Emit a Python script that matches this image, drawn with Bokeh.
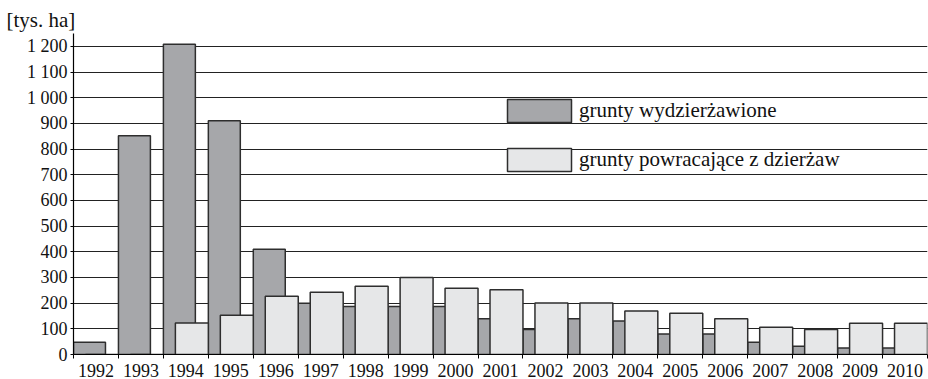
from bokeh.plotting import figure
from bokeh.models import FixedTicker, Legend, LegendItem, ColumnDataSource
from bokeh.embed import file_html
from bokeh.resources import INLINE

years = ["1992", "1993", "1994", "1995", "1996", "1997", "1998", "1999", "2000", "2001",
         "2002", "2003", "2004", "2005", "2006", "2007", "2008", "2009", "2010"]
leased_out = [48, 852, 1208, 910, 410, 200, 187, 187, 187, 139,
              97, 139, 130, 80, 80, 48, 32, 25, 25]
returned = [0, 0, 123, 153, 227, 242, 266, 300, 258, 252,
            201, 201, 169, 161, 139, 106, 97, 122, 122]
y_ticks = [0, 100, 200, 300, 400, 500, 600, 700, 800, 900, 1000, 1100, 1200]
y_tick_labels = ["0", "100", "200", "300", "400", "500", "600", "700", "800", "900",
                 "1 000", "1 100", "1 200"]
series_names = ["grunty wydzierżawione", "grunty powracające z dzierżaw"]
unit_label = "[tys. ha]"

FONT = "Liberation Serif"
FS = "18px"
FS_BIG = "21px"
DARK = "#a6a7aa"
LIGHT = "#e6e7e8"
EDGE = "#2e2e2e"

n = len(years)
idx = list(range(n))
dark_w = 32 / 45
light_w = 33 / 45
src = ColumnDataSource(dict(
    xd=[i + dark_w / 2 for i in idx],
    xl=[i + 1 - light_w / 2 for i in idx],
    dark=leased_out,
    light=returned,
))

p = figure(width=928, height=379, x_range=(0, n), y_range=(0, 1250),
           output_backend="svg", toolbar_location=None,
           min_border_left=73, min_border_right=1, min_border_top=33, min_border_bottom=25)
p.outline_line_color = None
p.background_fill_color = "white"

r1 = p.vbar(x="xd", top="dark", width=dark_w, bottom=0, source=src,
            fill_color=DARK, line_color=EDGE, line_width=1.5)
r2 = p.vbar(x="xl", top="light", width=light_w, bottom=0, source=src,
            fill_color=LIGHT, line_color=EDGE, line_width=1.5)

# x axis: labels at centers, tick marks at category boundaries
centers = [i + 0.5 for i in idx]
p.xaxis.ticker = FixedTicker(ticks=centers, minor_ticks=list(range(n + 1)))
p.xaxis.major_label_overrides = {c: y for c, y in zip(centers, years)}
p.xaxis.major_tick_line_color = None
p.xaxis.minor_tick_line_color = "black"
p.xaxis.minor_tick_out = 4
p.xaxis.minor_tick_in = 0
p.xaxis.axis_line_color = "black"
p.xaxis.axis_line_width = 1.2
p.xaxis.major_label_standoff = 3
p.xaxis.major_label_text_font = FONT
p.xaxis.major_label_text_font_size = FS
p.xaxis.major_label_text_color = "#111111"

p.yaxis.ticker = FixedTicker(ticks=y_ticks)
p.yaxis.major_label_overrides = {t: l for t, l in zip(y_ticks, y_tick_labels)}
p.yaxis.minor_tick_line_color = None
p.yaxis.major_tick_out = 3
p.yaxis.major_tick_in = 0
p.yaxis.major_tick_line_color = "black"
p.yaxis.axis_line_color = "black"
p.yaxis.axis_line_width = 1.2
p.yaxis.major_label_standoff = 3
p.yaxis.major_label_text_font = FONT
p.yaxis.major_label_text_font_size = "18px"
p.yaxis.major_label_text_color = "#111111"

p.xgrid.grid_line_color = None
p.ygrid.ticker = FixedTicker(ticks=y_ticks[1:])
p.ygrid.grid_line_color = "#222222"
p.ygrid.grid_line_width = 1.1

p.title.text = unit_label
p.title.align = "left"
p.title.offset = -67
p.title.standoff = 4
p.title.text_font = FONT
p.title.text_font_size = FS_BIG
p.title.text_font_style = "normal"
p.title.text_color = "#111111"

legend = Legend(items=[LegendItem(label=series_names[0], renderers=[r1]),
                       LegendItem(label=series_names[1], renderers=[r2])],
                location=(426, 180), orientation="vertical",
                glyph_width=80, glyph_height=29, label_height=29, spacing=20,
                label_standoff=0, padding=0, margin=0,
                border_line_color=None, background_fill_alpha=0,
                label_text_font=FONT, label_text_font_size=FS_BIG, label_text_color="#111111")
p.add_layout(legend, "center")

open("out.html", "w").write(file_html(p, INLINE))
